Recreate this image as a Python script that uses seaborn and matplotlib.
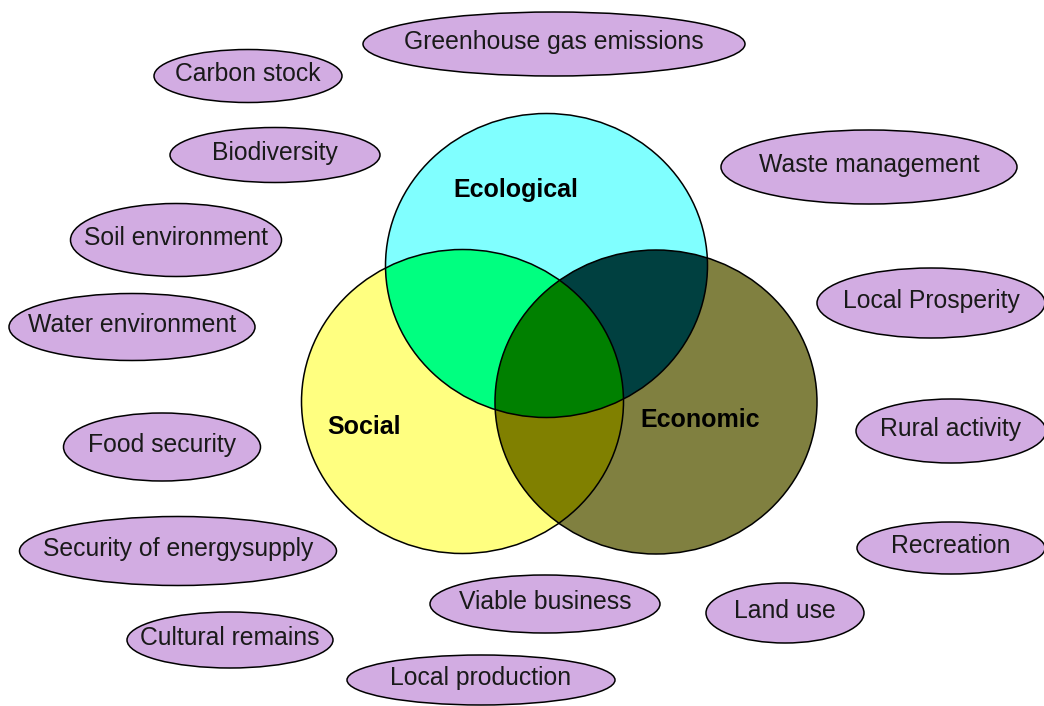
import numpy as np
import matplotlib
matplotlib.use("Agg")
import matplotlib.pyplot as plt
from matplotlib.patches import Ellipse, Polygon
import seaborn as sns

# Venn sets
sets = ["Ecological", "Social", "Economic"]

# Indicator labels around the diagram
indicators = [
    "Greenhouse gas emissions", "Carbon stock", "Biodiversity", "Waste management",
    "Soil environment", "Water environment", "Local Prosperity", "Rural activity",
    "Food security", "Security of energysupply", "Recreation", "Viable business",
    "Land use", "Cultural remains", "Local production",
]

# layout (pixel coords, y down)
set_centers = [(546.5, 265.5), (462.5, 401.5), (656, 402)]
set_size = (322, 304)
set_label_pos = [(516, 190), (364, 427), (700, 420)]
set_colors = ["#80FFFF", "#FFFF80", "#808040"]
pair_colors = {(0, 1): "#00FF80", (0, 2): "#004040", (1, 2): "#808000"}
triple_color = "#008000"

ind_centers = [(554, 44), (248, 76), (275, 155), (869, 167), (176, 240), (132, 327),
               (931, 303), (951, 431), (162, 447), (178, 551), (951, 548), (545, 604),
               (785, 613), (230, 640), (481, 680)]
ind_sizes = [(382, 64), (188, 53), (210, 55), (296, 74), (211, 73), (246, 67),
             (228, 70), (190, 64), (197, 68), (317, 69), (188, 52), (230, 58),
             (158, 60), (206, 56), (268, 50)]
ind_color = "#D2ACE2"

sns.set_theme(style="white")
plt.rcParams['font.family'] = ['Liberation Sans', 'DejaVu Sans']


def ell_pts(c, s, n=900):
    t = np.linspace(0, 2 * np.pi, n, endpoint=False)
    return np.column_stack([c[0] + s[0] / 2 * np.cos(t), c[1] + s[1] / 2 * np.sin(t)])


def inside(pts, c, s):
    return ((pts[:, 0] - c[0]) / (s[0] / 2)) ** 2 + ((pts[:, 1] - c[1]) / (s[1] / 2)) ** 2 <= 1


def sort_ring(pts):
    m = pts.mean(axis=0)
    ang = np.arctan2(pts[:, 1] - m[1], pts[:, 0] - m[0])
    return pts[np.argsort(ang)]


def region(idx):
    # convex intersection of the given ellipses
    keep = []
    for i in idx:
        p = ell_pts(set_centers[i], set_size)
        ok = np.ones(len(p), bool)
        for j in idx:
            if j != i:
                ok &= inside(p, set_centers[j], set_size)
        keep.append(p[ok])
    return sort_ring(np.vstack(keep))


fig = plt.figure(figsize=(10.44, 7.06), dpi=100)
ax = fig.add_axes([0, 0, 1, 1])
ax.set_xlim(0, 1044)
ax.set_ylim(706, 0)
ax.axis('off')

for c, col in zip(set_centers, set_colors):
    ax.add_patch(Ellipse(c, *set_size, facecolor=col, edgecolor='none', zorder=1))
for (i, j), col in pair_colors.items():
    ax.add_patch(Polygon(region([i, j]), closed=True, facecolor=col, edgecolor='none', zorder=2))
ax.add_patch(Polygon(region([0, 1, 2]), closed=True, facecolor=triple_color, edgecolor='none', zorder=3))
for c in set_centers:
    ax.add_patch(Ellipse(c, *set_size, facecolor='none', edgecolor='black', linewidth=1.1, zorder=4))

for name, pos in zip(sets, set_label_pos):
    ax.text(pos[0], pos[1], name, ha='center', va='center', fontsize=18,
            fontweight='bold', color='black', zorder=5)

for name, c, s in zip(indicators, ind_centers, ind_sizes):
    ax.add_patch(Ellipse(c, *s, facecolor=ind_color, edgecolor='black', linewidth=1.1, zorder=6))
    ax.text(c[0], c[1] - 2, name, ha='center', va='center', fontsize=17.8, color='#1a1a1a', zorder=7)

fig.savefig("out.png", dpi=100)
